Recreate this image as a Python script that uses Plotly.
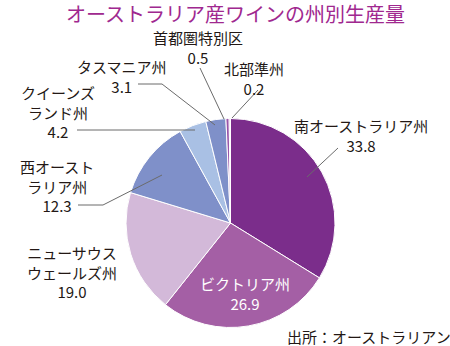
import plotly.graph_objects as go

# ---- data ----
regions = ["南オーストラリア州", "ビクトリア州", "ニューサウスウェールズ州", "西オーストラリア州",
           "クイーンズランド州", "タスマニア州", "首都圏特別区", "北部準州"]
shares = [33.8, 26.9, 19.0, 12.3, 4.2, 3.1, 0.5, 0.2]
colors = ["#7B2D8B", "#A45FA5", "#D3B9D9", "#7F90C9", "#A9C0E4", "#7F90C9", "#9A55AA", "#D9A0D6"]
title_text = "オーストラリア産ワインの州別生産量"
source_text = "出所：オーストラリアン"

W, H = 450, 346
FONT = "Noto Sans CJK JP, Noto Sans CJK SC, sans-serif"
TXT = "#231815"
LINE = "#6b6b6b"

def px(x, y):
    return x / W, 1 - y / H

cx, cy, r = 230.5, 223.0, 104.5
x0, y0 = px(cx - r, cy + r)
x1, y1 = px(cx + r, cy - r)

fig = go.Figure(go.Pie(
    labels=regions, values=shares, sort=False, direction="clockwise", rotation=0,
    marker=dict(colors=colors, line=dict(color="white", width=1)),
    textinfo="none", hoverinfo="label+value", showlegend=False,
    domain=dict(x=[x0, x1], y=[y0, y1]),
))

annotations = []
def add_text(x, y, s, size=15, color=TXT):
    ax, ay = px(x, y)
    annotations.append(dict(x=ax, y=ay, xref="paper", yref="paper", text=s, showarrow=False,
                            font=dict(family=FONT, size=size, color=color), align="center",
                            xanchor="center", yanchor="middle"))

# title
add_text(235, 13, title_text, size=20, color="#A0288F")

# labels: (center x, center y, name lines, value index, color)
label_pos = [
    (361, 135, [regions[0]], 0, TXT),
    (245, 293, [regions[1]], 1, "white"),
    (72, 272, ["ニューサウス", "ウェールズ州"], 2, TXT),
    (57, 186, ["西オースト", "ラリア州"], 3, TXT),
    (58, 112, ["クイーンズ", "ランド州"], 4, TXT),
    (122, 76, [regions[5]], 5, TXT),
    (198, 48, [regions[6]], 6, TXT),
    (254, 78, [regions[7]], 7, TXT),
]
for x, y, names, vi, col in label_pos:
    add_text(x, y, "<br>".join(names + [f"{shares[vi]:.1f}"]), size=15, color=col)

add_text(369, 336, source_text, size=15)

# leader lines (pixel polylines)
leaders = [
    [(338, 148), (307, 177)],
    [(258, 90), (232, 118)],
    [(200, 68), (224, 119)],
    [(138, 84), (162, 84), (215, 125)],
    [(77, 130), (195, 130)],
    [(78, 205), (103, 205), (162, 175)],
]
shapes = []
for pts in leaders:
    path = ""
    for i, (x, y) in enumerate(pts):
        X, Y = px(x, y)
        path += ("M" if i == 0 else "L") + f"{X},{Y} "
    shapes.append(dict(type="path", xref="paper", yref="paper", path=path.strip(),
                       line=dict(color=LINE, width=1)))

fig.update_layout(width=W, height=H, margin=dict(l=0, r=0, t=0, b=0),
                  paper_bgcolor="white", plot_bgcolor="white",
                  annotations=annotations, shapes=shapes,
                  font=dict(family=FONT))
fig.write_html("out.html")
